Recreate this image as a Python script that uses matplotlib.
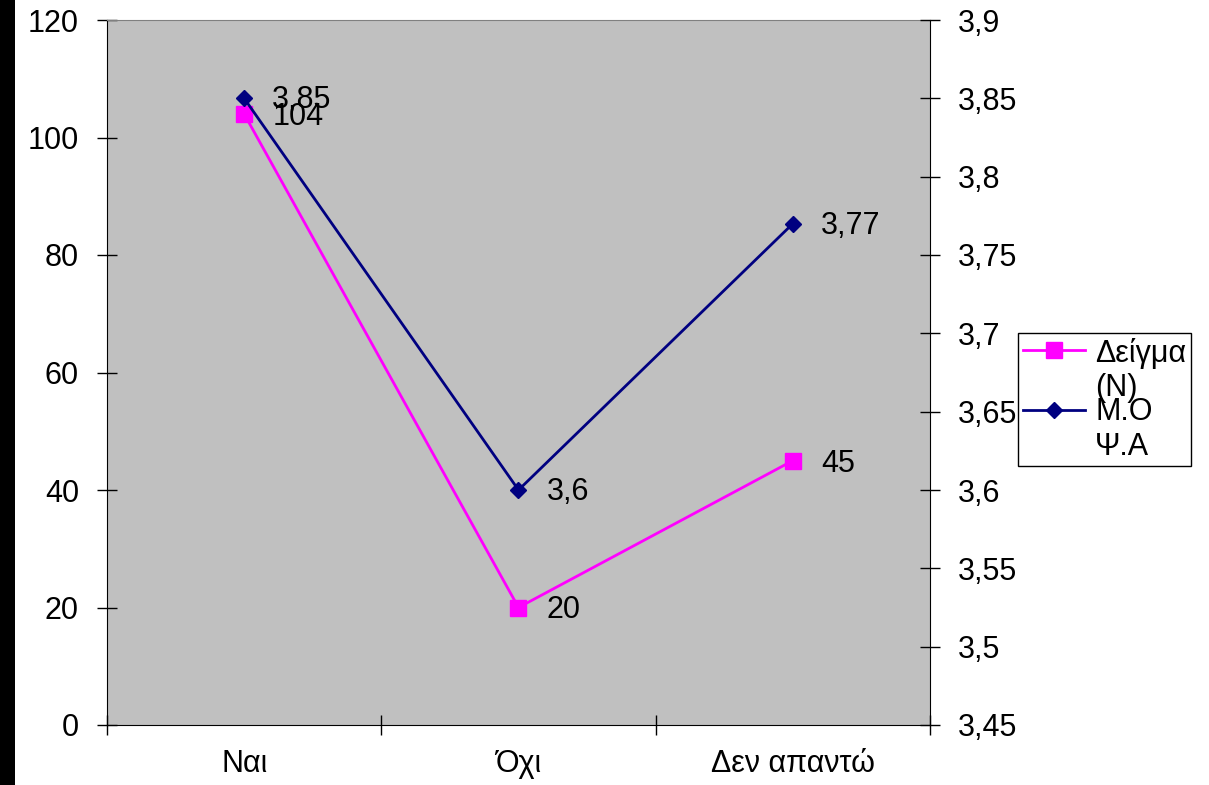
import numpy as np
import matplotlib
matplotlib.use('Agg')
import matplotlib.pyplot as plt
from matplotlib.patches import Rectangle

plt.rcParams['font.family'] = ['Liberation Sans', 'DejaVu Sans']

# data
categories = ['Ναι', 'Όχι', 'Δεν απαντώ']
sample_n = [104, 20, 45]
mean_score = [3.85, 3.6, 3.77]
sample_labels = ['104', '20', '45']
mean_labels = ['3,85', '3,6', '3,77']
left_ticks = [0, 20, 40, 60, 80, 100, 120]
right_ticks = [3.45, 3.5, 3.55, 3.6, 3.65, 3.7, 3.75, 3.8, 3.85, 3.9]
series_names = ['Δείγμα\n(N)', 'Μ.Ο\nΨ.Α']

W, H = 1209, 785
fs = 22
fig = plt.figure(figsize=(W / 100, H / 100), dpi=100)

# dark strip on the left edge of the screenshot
fig.add_artist(Rectangle((0, 0), 15 / W, 1, transform=fig.transFigure,
                         facecolor='black', edgecolor='none'))

ax = fig.add_axes([107 / W, 60 / H, 823 / W, 705 / H])
ax.set_facecolor('#c0c0c0')
x = np.arange(len(categories))

l1, = ax.plot(x, sample_n, color='#ff00ff', lw=2, marker='s', ms=12, zorder=3)
ax.set_xlim(-0.5, len(categories) - 0.5)
ax.set_ylim(0, 120)
ax.set_yticks(left_ticks)
ax.set_xticks(np.arange(len(categories) + 1) - 0.5)
ax.set_xticklabels([])
ax.set_xticks(x, minor=True)
ax.set_xticklabels(categories, minor=True)
ax.tick_params(axis='y', direction='inout', length=14.4, width=1, pad=13, labelsize=fs)
ax.tick_params(axis='x', which='major', direction='inout', length=14.4, width=1)
ax.tick_params(axis='x', which='minor', length=0, pad=17, labelsize=fs)
for xi, yi, t in zip(x, sample_n, sample_labels):
    ax.annotate(t, (xi, yi), xytext=(28, -3), textcoords='offset pixels',
                va='center', ha='left', fontsize=fs, zorder=5)

ax2 = ax.twinx()
l2, = ax2.plot(x, mean_score, color='#000080', lw=2, marker='D', ms=8.5, zorder=3)
ax2.set_ylim(3.45, 3.9)
ax2.set_yticks(right_ticks)
ax2.set_yticklabels(['{:g}'.format(round(v, 2)).replace('.', ',') for v in right_ticks])
ax2.tick_params(axis='y', direction='inout', length=14.4, width=1, pad=13, labelsize=fs)
for xi, yi, t in zip(x, mean_score, mean_labels):
    ax2.annotate(t, (xi, yi), xytext=(28, -2), textcoords='offset pixels',
                 va='center', ha='left', fontsize=fs, zorder=5)

for s in ['left', 'bottom']:
    ax.spines[s].set_color('black')
ax.spines['top'].set_color('#808080')
ax.spines['right'].set_visible(False)
for s in ['left', 'bottom', 'top']:
    ax2.spines[s].set_visible(False)
ax2.spines['right'].set_color('black')

leg = fig.legend([l1, l2], series_names, loc='upper left',
                 bbox_to_anchor=(1018 / W, 1 - 333 / H), borderaxespad=0,
                 fontsize=fs, fancybox=False, edgecolor='black', framealpha=1,
                 borderpad=0.15, handlelength=2.05, handletextpad=0.33,
                 labelspacing=-0.2, handleheight=1.1)
leg.get_frame().set_linewidth(1.0)
# keep the markers level with the first line of each label
for col in leg._legend_handle_box.get_children():
    for item in col.get_children():
        item.align = 'top'

fig.savefig('out.png', dpi=100)
